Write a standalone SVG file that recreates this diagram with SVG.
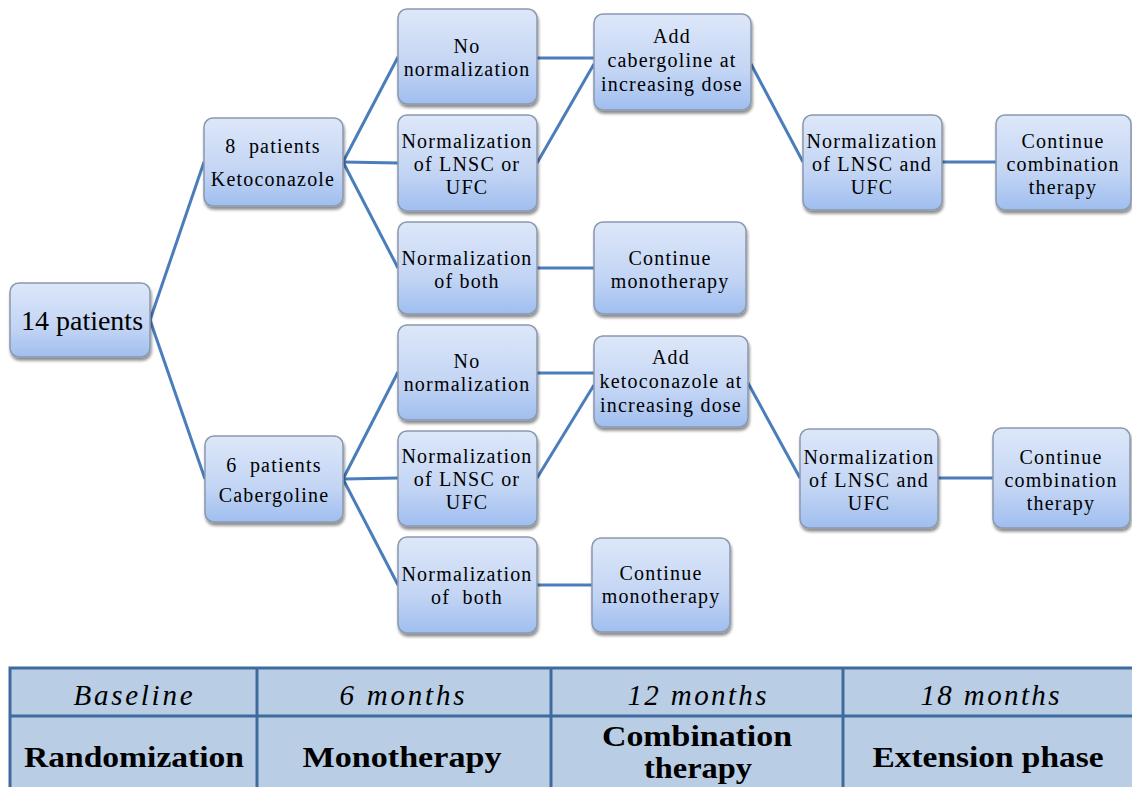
<svg xmlns="http://www.w3.org/2000/svg" width="1132" height="787" viewBox="0 0 1132 787" font-family="'Liberation Serif', 'Times New Roman', serif">
<defs>
<linearGradient id="g" x1="0" y1="0" x2="0" y2="1">
<stop offset="0" stop-color="#DDE7F9"/>
<stop offset="0.6" stop-color="#C3D5F4"/>
<stop offset="1" stop-color="#9FBEEF"/>
</linearGradient>
<filter id="sh" x="-10%" y="-10%" width="125%" height="130%">
<feGaussianBlur in="SourceAlpha" stdDeviation="1.5"/>
<feOffset dx="1" dy="2.5" result="o"/>
<feComponentTransfer><feFuncA type="linear" slope="0.45"/></feComponentTransfer>
<feMerge><feMergeNode/><feMergeNode in="SourceGraphic"/></feMerge>
</filter>
</defs>
<style>
text{font-family:'Liberation Serif','Times New Roman',serif;fill:#000;text-anchor:middle}
.box{fill:url(#g);stroke:#8A98AE;stroke-width:1.5;filter:url(#sh)}
.t{font-size:20px;letter-spacing:1.2px}
.big{font-size:28px}
.conn line{stroke:#4A7DBA;stroke-width:3;fill:none}
.tb{fill:#B9CDE5;stroke:#3F6A9E;stroke-width:3}
.tl{stroke:#3F6A9E;stroke-width:3}
.it{font-size:29px;font-style:italic}
.bd{font-size:30px;font-weight:bold}
</style>

<g id="connectors" class="conn">
<line x1="150" y1="320" x2="204" y2="162"/>
<line x1="150" y1="320" x2="205" y2="479"/>
<line x1="343" y1="162" x2="398" y2="57"/>
<line x1="343" y1="162" x2="398" y2="163"/>
<line x1="343" y1="162" x2="398" y2="268"/>
<line x1="537" y1="58" x2="594" y2="58"/>
<line x1="537" y1="163" x2="594" y2="64"/>
<line x1="537" y1="268" x2="594" y2="268"/>
<line x1="751" y1="64" x2="803" y2="162"/>
<line x1="942" y1="162" x2="996" y2="162"/>
<line x1="343" y1="479" x2="398" y2="372"/>
<line x1="343" y1="479" x2="398" y2="478"/>
<line x1="343" y1="479" x2="398" y2="585"/>
<line x1="537" y1="373" x2="594" y2="373"/>
<line x1="537" y1="478" x2="594" y2="385"/>
<line x1="537" y1="585" x2="592" y2="585"/>
<line x1="748" y1="383" x2="800" y2="478"/>
<line x1="938" y1="478" x2="993" y2="478"/>
</g>

<g id="n14"><rect class="box" x="10" y="283" width="140" height="74" rx="9"/>
<text class="big" x="82" y="330">14 patients</text></g>

<g id="keto8"><rect class="box" x="204" y="118" width="139" height="88" rx="9"/>
<text class="t" x="273" y="153" xml:space="preserve">8  patients</text>
<text class="t" x="273" y="186">Ketoconazole</text></g>

<g id="cab6"><rect class="box" x="205" y="436" width="138" height="86" rx="9"/>
<text class="t" x="274" y="472" xml:space="preserve">6  patients</text>
<text class="t" x="274" y="502">Cabergoline</text></g>

<g id="a1"><rect class="box" x="398" y="9" width="139" height="95" rx="9"/>
<text class="t" x="467" y="53">No</text>
<text class="t" x="467" y="76">normalization</text></g>

<g id="a2"><rect class="box" x="398" y="115" width="139" height="96" rx="9"/>
<text class="t" x="467" y="148">Normalization</text>
<text class="t" x="467" y="171">of LNSC or</text>
<text class="t" x="467" y="194">UFC</text></g>

<g id="a3"><rect class="box" x="398" y="222" width="139" height="92" rx="9"/>
<text class="t" x="467" y="265">Normalization</text>
<text class="t" x="467" y="288">of both</text></g>

<g id="b1"><rect class="box" x="398" y="325" width="139" height="95" rx="9"/>
<text class="t" x="467" y="368">No</text>
<text class="t" x="467" y="391">normalization</text></g>

<g id="b2"><rect class="box" x="398" y="431" width="139" height="95" rx="9"/>
<text class="t" x="467" y="463">Normalization</text>
<text class="t" x="467" y="486">of LNSC or</text>
<text class="t" x="467" y="509">UFC</text></g>

<g id="b3"><rect class="box" x="398" y="537" width="139" height="96" rx="9"/>
<text class="t" x="467" y="581">Normalization</text>
<text class="t" x="467" y="604" xml:space="preserve">of  both</text></g>

<g id="a4"><rect class="box" x="594" y="14" width="157" height="96" rx="9"/>
<text class="t" x="672" y="43">Add</text>
<text class="t" x="672" y="67">cabergoline at</text>
<text class="t" x="672" y="91">increasing dose</text></g>

<g id="a5"><rect class="box" x="594" y="222" width="152" height="92" rx="9"/>
<text class="t" x="670" y="265">Continue</text>
<text class="t" x="670" y="288">monotherapy</text></g>

<g id="b4"><rect class="box" x="594" y="336" width="154" height="91" rx="9"/>
<text class="t" x="671" y="364">Add</text>
<text class="t" x="671" y="388">ketoconazole at</text>
<text class="t" x="671" y="412">increasing dose</text></g>

<g id="b5"><rect class="box" x="592" y="538" width="138" height="94" rx="9"/>
<text class="t" x="661" y="580">Continue</text>
<text class="t" x="661" y="603">monotherapy</text></g>

<g id="a6"><rect class="box" x="803" y="115" width="139" height="95" rx="9"/>
<text class="t" x="872" y="148">Normalization</text>
<text class="t" x="872" y="171">of LNSC and</text>
<text class="t" x="872" y="194">UFC</text></g>

<g id="a7"><rect class="box" x="996" y="115" width="135" height="95" rx="9"/>
<text class="t" x="1063" y="148">Continue</text>
<text class="t" x="1063" y="171">combination</text>
<text class="t" x="1063" y="194">therapy</text></g>

<g id="b6"><rect class="box" x="800" y="429" width="138" height="99" rx="9"/>
<text class="t" x="869" y="464">Normalization</text>
<text class="t" x="869" y="487">of LNSC and</text>
<text class="t" x="869" y="510">UFC</text></g>

<g id="b7"><rect class="box" x="993" y="428" width="137" height="100" rx="9"/>
<text class="t" x="1061" y="464">Continue</text>
<text class="t" x="1061" y="487">combination</text>
<text class="t" x="1061" y="510">therapy</text></g>

<g id="timeline">
<rect class="tb" x="10" y="668" width="1132" height="130"/>
<line class="tl" x1="10" y1="716" x2="1142" y2="716"/>
<line class="tl" x1="257" y1="668" x2="257" y2="787"/>
<line class="tl" x1="551" y1="668" x2="551" y2="787"/>
<line class="tl" x1="843" y1="668" x2="843" y2="787"/>
<text class="it" x="133" y="705" textLength="119" lengthAdjust="spacing">Baseline</text>
<text class="it" x="402" y="705" textLength="125" lengthAdjust="spacing">6 months</text>
<text class="it" x="697" y="705" textLength="139" lengthAdjust="spacing">12 months</text>
<text class="it" x="990" y="705" textLength="139" lengthAdjust="spacing">18 months</text>
<text class="bd" x="134" y="767" textLength="220" lengthAdjust="spacingAndGlyphs">Randomization</text>
<text class="bd" x="402" y="767" textLength="199" lengthAdjust="spacingAndGlyphs">Monotherapy</text>
<text class="bd" x="697" y="746" textLength="190" lengthAdjust="spacingAndGlyphs">Combination</text>
<text class="bd" x="698" y="778" textLength="108" lengthAdjust="spacingAndGlyphs">therapy</text>
<text class="bd" x="988" y="767" textLength="231" lengthAdjust="spacingAndGlyphs">Extension phase</text>
</g>
</svg>
